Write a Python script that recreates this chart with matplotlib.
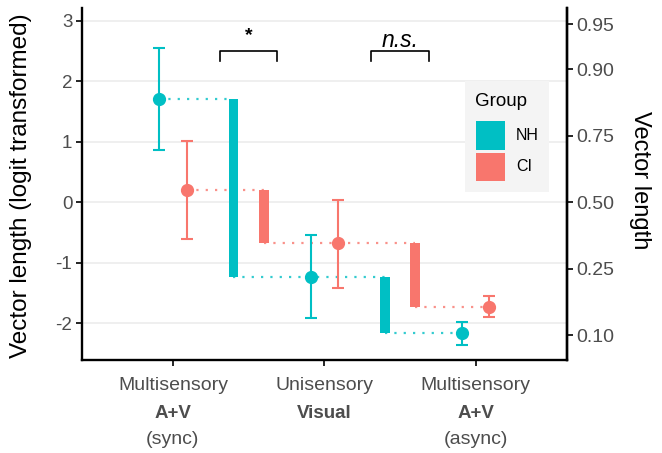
import matplotlib
matplotlib.use("Agg")
import matplotlib.pyplot as plt
import matplotlib.transforms as mtransforms
from matplotlib.patches import Rectangle
import numpy as np

plt.rcParams['font.family'] = ['Liberation Sans', 'DejaVu Sans']

# ---- data ----
cat_pos = [1, 2, 3]
cat_line1 = ["Multisensory", "Unisensory", "Multisensory"]
cat_line2 = ["A+V", "Visual", "A+V"]
cat_line3 = ["(sync)", "", "(async)"]

groups = ["NH", "CI"]
nh_mean = [1.70, -1.23, -2.16]
nh_lo = [0.86, -1.91, -2.35]
nh_hi = [2.55, -0.545, -1.975]
ci_mean = [0.20, -0.68, -1.73]
ci_lo = [-0.60, -1.41, -1.90]
ci_hi = [1.01, 0.03, -1.55]

left_ticks = [-2, -1, 0, 1, 2, 3]
right_prob = [0.10, 0.25, 0.50, 0.75, 0.90, 0.95]
right_labels = ["0.10", "0.25", "0.50", "0.75", "0.90", "0.95"]

sig_labels = ["*", "n.s."]

# ---- style ----
NH_COL = "#00BFC4"
CI_COL = "#F8766D"
GREY = "#4D4D4D"
W, H = 662, 453

fig = plt.figure(figsize=(W / 100, H / 100), dpi=100)
ax_l, ax_r, ax_b, ax_t = 82, 566.7, 360, 8
ax = fig.add_axes([ax_l / W, 1 - ax_b / H, (ax_r - ax_l) / W, (ax_b - ax_t) / H])
ax.set_xlim(0.4, 3.6)
ax.set_ylim(-2.606, 3.21)

def axfrac(px, py):
    return (px - ax_l) / (ax_r - ax_l), (ax_b - py) / (ax_b - ax_t)

# gridlines
for yv in left_ticks:
    ax.axhline(yv, color="#EBEBEB", lw=1.1, zorder=0)

dodge = 0.09
bar_off = 0.1
bar_w = 0.065
x = np.array(cat_pos, dtype=float)

series = [(nh_mean, nh_lo, nh_hi, NH_COL, -1), (ci_mean, ci_lo, ci_hi, CI_COL, 1)]
for mean, lo, hi, col, sgn in series:
    px = x + sgn * dodge
    bx = x[:-1] + 0.5 + sgn * bar_off  # bars between conditions
    # dotted connectors
    seg_x = [(px[0], bx[0]), (bx[0], bx[1]), (bx[1], px[2])]
    for i, (x0, x1) in enumerate(seg_x):
        ax.plot([x0, x1], [mean[i], mean[i]], color=col, lw=1.6,
                linestyle=(0, (1, 3.2)), alpha=0.8, zorder=1)
    # difference bars
    for i in range(2):
        ax.bar(bx[i], mean[i + 1] - mean[i], bottom=mean[i], width=bar_w,
               color=col, zorder=2, linewidth=0)
    # error bars + points
    yerr = [np.array(mean) - np.array(lo), np.array(hi) - np.array(mean)]
    ax.errorbar(px, mean, yerr=yerr, fmt='o', color=col, ecolor=col,
                elinewidth=1.5, capsize=4.5, capthick=1.5, markersize=8.5, zorder=3)

# significance brackets
br_y, br_leg = 2.50, 2.33
for i, lab in enumerate(sig_labels):
    x0 = cat_pos[i] + 0.31
    x1 = cat_pos[i] + 0.69
    ax.plot([x0, x0, x1, x1], [br_leg, br_y, br_y, br_leg], color="black", lw=1.2, zorder=3)
    xm = (x0 + x1) / 2
    if lab == "*":
        ax.text(xm, 2.76, lab, ha="center", va="center", fontsize=14, fontweight="bold")
    else:
        ax.text(xm, 2.56, lab, ha="center", va="baseline", fontsize=16.5, fontstyle="italic")

# axes styling
ax.spines["top"].set_visible(False)
for s in ["left", "bottom", "right"]:
    ax.spines[s].set_linewidth(1.7)
    ax.spines[s].set_color("black")

ax.set_yticks(left_ticks)
ax.set_yticklabels([str(v) for v in left_ticks])
ax.tick_params(axis="y", length=4, width=1.2, colors="black", labelcolor=GREY,
               labelsize=13.5, pad=3)
ax.set_xticks(cat_pos)
ax.set_xticklabels([""] * len(cat_pos))
ax.tick_params(axis="x", length=4, width=1.2, colors="black")

# multi-line x labels
tr = mtransforms.blended_transform_factory(ax.transData, ax.transAxes)
for xp, l1, l2, l3 in zip(cat_pos, cat_line1, cat_line2, cat_line3):
    ax.text(xp, axfrac(0, 385)[1], l1, transform=tr, ha="center", va="center",
            fontsize=14, color=GREY, clip_on=False)
    ax.text(xp, axfrac(0, 413)[1], l2, transform=tr, ha="center", va="center",
            fontsize=13.5, color=GREY, fontweight="bold", clip_on=False)
    if l3:
        ax.text(xp, axfrac(0, 440)[1], l3, transform=tr, ha="center", va="center",
                fontsize=14, color=GREY, clip_on=False)

# right axis
ax2 = ax.twinx()
ax2.set_ylim(ax.get_ylim())
p = np.array(right_prob)
ax2.set_yticks(np.log(p / (1 - p)))
ax2.set_yticklabels(right_labels)
ax2.tick_params(axis="y", length=4, width=1.2, colors="black", labelcolor=GREY,
                labelsize=14, pad=3)
for s in ["top", "left", "bottom"]:
    ax2.spines[s].set_visible(False)
ax2.spines["right"].set_linewidth(1.7)

# axis titles
fig.text(21 / W, 1 - 186 / H, "Vector length (logit transformed)", rotation=90,
         ha="center", va="center", fontsize=17.5)
fig.text(640 / W, 1 - 180 / H, "Vector length", rotation=270,
         ha="center", va="center", fontsize=17)

# legend (inside panel)
lx0, ly0 = axfrac(465, 191.7)
lx1, ly1 = axfrac(549, 81)
ax.add_patch(Rectangle((lx0, ly0), lx1 - lx0, ly1 - ly0, transform=ax.transAxes,
                       facecolor="#F4F4F4", edgecolor="none", zorder=4))
tx, ty = axfrac(475, 101.7)
ax.text(tx, ty, "Group", transform=ax.transAxes, ha="left", va="center",
        fontsize=13.5, zorder=5)
key_rows = [(120.7, 150, NH_COL, 136), (152.7, 180.7, CI_COL, 166.7)]
for (yt, yb, col, yc), g in zip(key_rows, groups):
    kx0, ky0 = axfrac(475.7, yb)
    kx1, ky1 = axfrac(505, yt)
    ax.add_patch(Rectangle((kx0, ky0), kx1 - kx0, ky1 - ky0, transform=ax.transAxes,
                           facecolor=col, edgecolor="none", zorder=5))
    lx, ly = axfrac(516, yc)
    ax.text(lx, ly, g, transform=ax.transAxes, ha="left", va="center",
            fontsize=11.5, zorder=5)

fig.savefig("out.png", dpi=100)
